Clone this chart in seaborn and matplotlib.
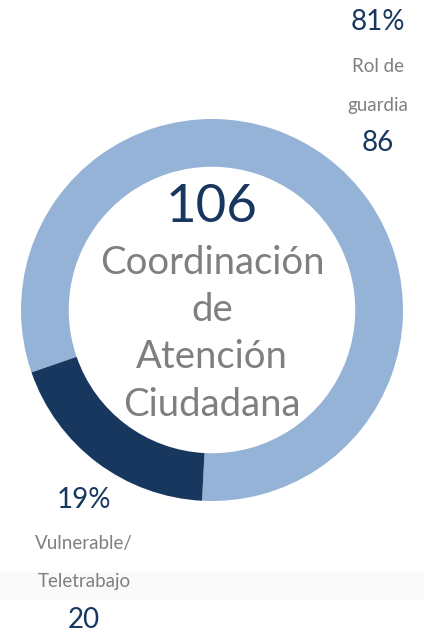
import matplotlib
matplotlib.use("Agg")
import matplotlib.pyplot as plt
from matplotlib.patches import Rectangle
import seaborn as sns

# data
categories = ["Rol de\nguardia", "Vulnerable/\nTeletrabajo"]
values = [86, 20]
percents = ["81%", "19%"]
total = sum(values)
title_lines = ["Coordinación", "de", "Atención", "Ciudadana"]

light = "#95b3d7"
navy = "#17375e"
gray = "#7f7f7f"

sns.set_theme(style="white")
plt.rcParams["font.family"] = ["Lato", "DejaVu Sans"]

W, H = 424, 636
fig = plt.figure(figsize=(W / 100, H / 100), dpi=100)
fig.patch.set_facecolor("white")

# faint grey band near the bottom
fig.patches.append(Rectangle((0, (H - 600) / H), 1, 28 / H, transform=fig.transFigure,
                             facecolor="#fafafa", edgecolor="none", zorder=-1))

cx, cy, r = 212, 310, 191
ax = fig.add_axes([(cx - r) / W, (H - cy - r) / H, 2 * r / W, 2 * r / H])
ax.set_facecolor("none")

ax.pie(values, colors=[light, navy], startangle=-93, counterclock=True,
       radius=1, wedgeprops=dict(width=0.25, edgecolor="none"))
ax.set_xlim(-1, 1)
ax.set_ylim(-1, 1)
ax.set_aspect("equal")
ax.axis("off")


def px(x, y):
    return (x - cx) / r, (cy - y) / r


# centre text
ax.text(*px(212, 207), str(total), ha="center", va="center", fontsize=38, color=navy)
for yy, line in zip([263, 310, 357, 405], title_lines):
    ax.text(*px(212, yy), line, ha="center", va="center", fontsize=27.5, color=gray)

# segment labels
label_pos = [(378, [22, 67, 105, 143]), (84, [500, 543, 582, 620])]
for (x, ys), cat, val, pct in zip(label_pos, categories, values, percents):
    l1, l2 = cat.split("\n")
    ax.text(*px(x, ys[0]), pct, ha="center", va="center", fontsize=20, color=navy)
    ax.text(*px(x, ys[1]), l1, ha="center", va="center", fontsize=13.5, color=gray)
    ax.text(*px(x, ys[2]), l2, ha="center", va="center", fontsize=13.5, color=gray)
    ax.text(*px(x, ys[3]), str(val), ha="center", va="center", fontsize=20, color=navy)

fig.savefig("out.png", dpi=100)
